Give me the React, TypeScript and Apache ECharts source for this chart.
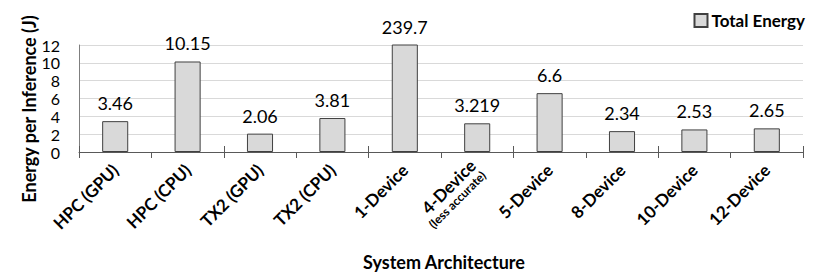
import React, { useEffect, useRef } from "react";
import * as echarts from "echarts";

const categories = [
  "HPC (GPU)",
  "HPC (CPU)",
  "TX2 (GPU)",
  "TX2 (CPU)",
  "1-Device",
  "4-Device\n(less accurate)",
  "5-Device",
  "8-Device",
  "10-Device",
  "12-Device",
];
const totalEnergy = [3.46, 10.15, 2.06, 3.81, 239.7, 3.219, 6.6, 2.34, 2.53, 2.65];
const valueLabels = ["3.46", "10.15", "2.06", "3.81", "239.7", "3.219", "6.6", "2.34", "2.53", "2.65"];
const yTicks = { min: 0, max: 12, interval: 2 };

const FONT = "Lato, 'Open Sans', sans-serif";

export default function App() {
  const ref = useRef<HTMLDivElement>(null);
  useEffect(() => {
    if (!ref.current) return;
    const chart = echarts.init(ref.current, undefined, { renderer: "svg" });
    const catLabel = (v: string) => {
      const parts = v.split("\n");
      if (parts.length > 1) return `{a|${parts[0]}}\n{b|${parts[1]}}`;
      return `{a|${v}}`;
    };
    chart.setOption({
      animation: false,
      textStyle: { fontFamily: FONT },
      grid: { left: 79, right: 27, top: 45, bottom: 121, containLabel: false },
      legend: {
        right: 20,
        top: 7,
        icon: "rect",
        itemWidth: 13,
        itemHeight: 13,
        itemGap: 4,
        textStyle: { fontFamily: FONT, fontWeight: "bold", fontSize: 17, color: "#000", padding: [0, 0, 0, -1] },
        data: ["Total Energy"],
      },
      xAxis: [
        {
          type: "category",
          data: categories,
          axisLine: { lineStyle: { color: "#595959", width: 1 } },
          axisTick: { show: true, length: 6, lineStyle: { color: "#595959" } },
          axisLabel: {
            interval: 0,
            rotate: 45,
            margin: 15,
            formatter: catLabel,
            rich: {
              a: { fontFamily: FONT, fontWeight: "bold", fontSize: 17, color: "#000", lineHeight: 18 },
              b: { fontFamily: FONT, fontWeight: "bold", fontSize: 12, color: "#000", lineHeight: 13 },
            },
          },
        },
        {
          type: "category",
          data: categories,
          position: "bottom",
          axisLine: { show: false },
          axisTick: { show: true, inside: true, length: 6, lineStyle: { color: "#595959" } },
          axisLabel: { show: false },
          splitLine: { show: false },
        },
      ],
      yAxis: {
        type: "value",
        min: yTicks.min,
        max: yTicks.max,
        interval: yTicks.interval,
        axisLine: { show: true, lineStyle: { color: "#7f7f7f" } },
        axisTick: { show: false },
        axisLabel: {
          fontFamily: FONT,
          fontSize: 16,
          color: "#000",
          margin: 19,
          lineHeight: 15,
          showMinLabel: true,
          showMaxLabel: true,
          hideOverlap: false,
        },
        splitLine: { lineStyle: { color: "#d9d9d9" } },
      },
      graphic: [
        {
          type: "text",
          x: 29,
          y: 109,
          rotation: Math.PI / 2,
          style: {
            text: "Energy per Inference (J)",
            fontFamily: FONT,
            fontWeight: "bold",
            fontSize: 18,
            fill: "#000",
            align: "center",
            verticalAlign: "middle",
          },
        },
        {
          type: "text",
          x: 444,
          y: 262,
          style: {
            text: "System Architecture",
            fontFamily: FONT,
            fontWeight: "bold",
            fontSize: 18,
            fill: "#000",
            align: "center",
            verticalAlign: "middle",
          },
        },
      ],
      series: [
        {
          name: "Total Energy",
          type: "bar",
          xAxisIndex: 0,
          data: totalEnergy,
          barWidth: "36%",
          clip: true,
          itemStyle: { color: "#d9d9d9", borderColor: "#404040", borderWidth: 1 },
          label: {
            show: true,
            position: "top",
            distance: 9,
            fontFamily: FONT,
            fontSize: 18,
            color: "#000",
            formatter: (p: any) => valueLabels[p.dataIndex],
          },
        },
      ],
    });
    return () => chart.dispose();
  }, []);
  return (
    <div
      ref={ref}
      style={{ position: "fixed", left: 0, top: 0, width: 830, height: 273, background: "#fff" }}
    />
  );
}
